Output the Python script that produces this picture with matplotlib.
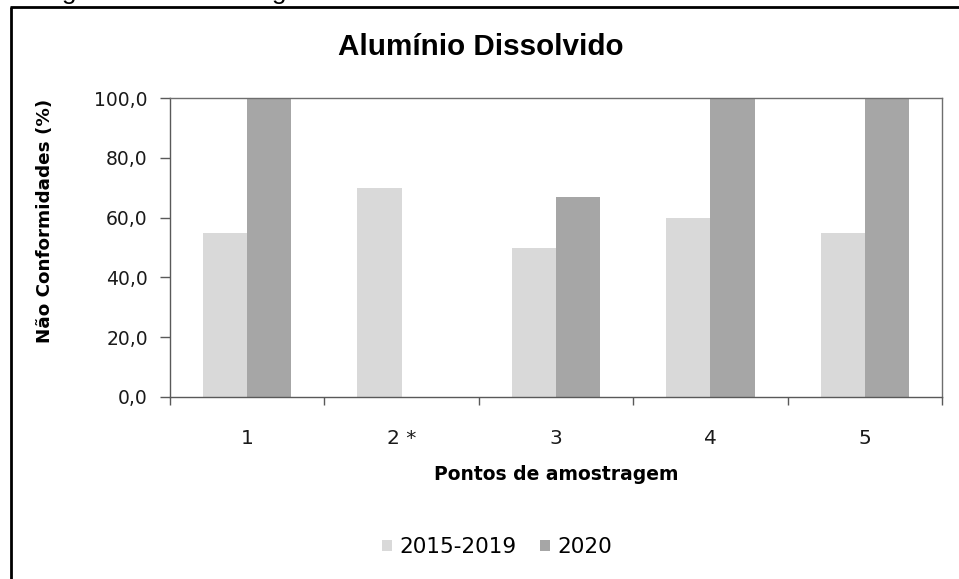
import matplotlib
matplotlib.use("Agg")
import matplotlib.pyplot as plt
import numpy as np
from matplotlib.lines import Line2D
from matplotlib.patches import Patch

# ---- data ----
categories = ["1", "2 *", "3", "4", "5"]
series_names = ["2015-2019", "2020"]
values_2015_2019 = [55.0, 70.0, 50.0, 60.0, 55.0]
values_2020 = [100.0, 0.0, 67.0, 100.0, 100.0]
y_ticks = [0, 20, 40, 60, 80, 100]
title = "Alumínio Dissolvido"
xlabel = "Pontos de amostragem"
ylabel = "Não Conformidades (%)"
caption = "Figura 5 – Percentagem de não conformidades de Alumínio Dissolvido"

colors = ["#D9D9D9", "#A6A6A6"]
spine_color = "#595959"

W, H = 959, 579
fig = plt.figure(figsize=(W / 100, H / 100), dpi=100)
fig.patch.set_facecolor("white")

ax = fig.add_axes([170 / W, 1 - 397 / H, (942 - 170) / W, (397 - 98) / H])

x = np.arange(1, len(categories) + 1)
bw = 0.286
ax.bar(x - bw / 2, values_2015_2019, width=bw, color=colors[0], label=series_names[0], zorder=2)
ax.bar(x + bw / 2, values_2020, width=bw, color=colors[1], label=series_names[1], zorder=2)

ax.set_xlim(0.5, len(categories) + 0.5)
ax.set_ylim(0, 100)
ax.set_yticks(y_ticks)
ax.set_yticklabels([f"{v:.1f}".replace(".", ",") for v in y_ticks])
ax.set_xticks(x)
ax.set_xticklabels(categories)
ax.set_xticks(np.arange(0.5, len(categories) + 1), minor=True)
ax.tick_params(axis="x", which="major", length=0, pad=23, labelsize=14.5)
ax.tick_params(axis="x", which="minor", length=6, width=1, color=spine_color, direction="out")
ax.tick_params(axis="y", which="major", length=7, width=1, color=spine_color, direction="out",
               pad=9, labelsize=13.5)
for lab in ax.get_xticklabels() + ax.get_yticklabels():
    lab.set_family("DejaVu Sans")
    lab.set_color("#1a1a1a")

for s in ax.spines.values():
    s.set_color(spine_color)
    s.set_linewidth(1.0)
for s in ["top", "right"]:
    ax.spines[s].set_color("#6e6e6e")

# title
fig.text(481 / W, 1 - 47 / H, title, ha="center", va="center",
         fontsize=21.3, fontweight="bold", family="Liberation Sans", color="black")
# axis labels
fig.text(556 / W, 1 - 475 / H, xlabel, ha="center", va="center",
         fontsize=13.5, fontweight="bold", family="DejaVu Sans")
fig.text(45 / W, 1 - 221 / H, ylabel, ha="center", va="center", rotation=90,
         fontsize=13.2, fontweight="bold", family="DejaVu Sans")

# legend
handles = [Patch(facecolor=colors[0], edgecolor="none"), Patch(facecolor=colors[1], edgecolor="none")]
fig.legend(handles, series_names, loc="center", bbox_to_anchor=(497 / W, 1 - 547 / H),
           ncol=2, frameon=False, handlelength=0.45, handleheight=0.45, handletextpad=0.35,
           columnspacing=1.1, prop={"family": "DejaVu Sans", "size": 15.5})

# caption cut at top of image (only the lowest part of the glyphs is visible)
fig.text(40 / W, 1 + 1.5 / H, caption, ha="left", va="baseline",
         fontsize=19, family="Liberation Sans", color="black")

# outer frame (cropped)
fig.add_artist(Line2D([10.5 / W, 10.5 / W], [0, 1 - 7 / H], color="black", lw=2.0,
                      transform=fig.transFigure, solid_capstyle="butt"))
fig.add_artist(Line2D([9.5 / W, 1], [1 - 7 / H, 1 - 7 / H], color="black", lw=2.0,
                      transform=fig.transFigure, solid_capstyle="butt"))

fig.savefig("out.png", dpi=100, facecolor="white")
